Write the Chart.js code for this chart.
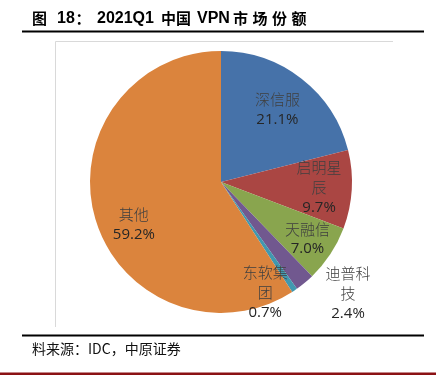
<!DOCTYPE html>
<html>
<head>
<meta charset="utf-8">
<script src="https://cdn.jsdelivr.net/npm/chart.js@4.4.1/dist/chart.umd.min.js"></script>
<style>
html,body{margin:0;padding:0;background:#fff;}
canvas{display:block;}
</style>
</head>
<body>
<canvas id="c" width="436" height="376"></canvas>
<script>
const categories = ["深信服", "启明星辰", "天融信", "迪普科技", "东软集团", "其他"];
const shares = [21.1, 9.7, 7.0, 2.4, 0.7, 59.2];
const colors = ["#4672A9", "#AA4643", "#89A54E", "#71588F", "#4198AF", "#DB843D"];
// [text, x, letterSpacing, isCJK]
const titleParts = [["图", 32, 0, true], ["18", 57, 0, false], ["：", 75.5, 0, true], ["2021Q1", 97, 0, false], ["中国", 161, 0, true], ["VPN", 197, 0, false], ["市场份额", 233, 4.5, true]];
const sourceText = "料来源：IDC，中原证券";

// label placement (style): radial factor and angular shift (degrees)
const labelPlace = [
  {f: 0.70, da: 0}, {f: 0.75, da: 0}, {f: 0.79, da: 0},
  {f: 1.29, da: -9}, {f: 0.91, da: 12.4}, {f: 0.74, da: -9.5}
];

function wrapName(s) {
  const out = [];
  for (let i = 0; i < s.length; i += 3) out.push(s.slice(i, i + 3));
  return out;
}

const decor = {
  id: 'decor',
  beforeDraw(chart) {
    const ctx = chart.ctx;
    ctx.save();
    ctx.fillStyle = '#fff';
    ctx.fillRect(0, 0, 436, 376);
    // title
    ctx.fillStyle = '#000';
    ctx.textBaseline = 'middle';
    ctx.textAlign = 'left';
    titleParts.forEach(([t, x, ls, cjk]) => {
      ctx.font = cjk ? 'bold 15px "Noto Sans CJK SC", sans-serif'
                     : 'bold 16px "Liberation Sans", sans-serif';
      ctx.letterSpacing = ls + 'px';
      ctx.fillText(t, x, 18.5);
    });
    ctx.letterSpacing = '0px';
    // top black line
    ctx.fillRect(22, 30.5, 402, 2);
    // chart frame (light gray)
    ctx.strokeStyle = '#d9d9d9';
    ctx.lineWidth = 1;
    ctx.beginPath();
    ctx.moveTo(55.5, 327);
    ctx.lineTo(55.5, 41.5);
    ctx.lineTo(393, 41.5);
    ctx.stroke();
    // bottom black line
    ctx.fillStyle = '#000';
    ctx.fillRect(22, 334.5, 402, 2);
    // source
    ctx.fillStyle = '#111';
    ctx.font = '14px "Noto Sans CJK SC", "Liberation Sans", sans-serif';
    ctx.fillText(sourceText, 32, 349);
    // red line
    ctx.fillStyle = '#8B1114';
    ctx.fillRect(0, 372.5, 436, 2.5);
    ctx.restore();
  },
  afterDatasetsDraw(chart) {
    const ctx = chart.ctx;
    const meta = chart.getDatasetMeta(0);
    ctx.save();
    ctx.textAlign = 'center';
    ctx.textBaseline = 'middle';
    meta.data.forEach((arc, i) => {
      const p = labelPlace[i];
      const mid = (arc.startAngle + arc.endAngle) / 2 + p.da * Math.PI / 180;
      const r = arc.outerRadius * p.f;
      const cx = arc.x + Math.cos(mid) * r;
      const cy = arc.y + Math.sin(mid) * r;
      const lines = wrapName(categories[i]);
      const pct = shares[i].toFixed(1) + '%';
      const all = lines.concat([pct]);
      const lh = 20;
      const y0 = cy - (all.length - 1) * lh / 2;
      all.forEach((t, k) => {
        const isPct = k === all.length - 1;
        ctx.fillStyle = isPct ? '#262626' : '#404040';
        ctx.font = isPct ? '15px "Open Sans", "Noto Sans", sans-serif'
                         : '300 15px "Noto Sans CJK SC", sans-serif';
        ctx.fillText(t, cx, y0 + k * lh);
      });
    });
    ctx.restore();
  }
};

new Chart(document.getElementById('c'), {
  type: 'pie',
  data: {
    labels: categories,
    datasets: [{
      data: shares,
      backgroundColor: colors,
      borderWidth: 0
    }]
  },
  options: {
    responsive: false,
    animation: false,
    layout: { padding: { left: 90, right: 84, top: 51, bottom: 63 } },
    plugins: {
      legend: { display: false },
      tooltip: { enabled: false },
      title: { display: false }
    }
  },
  plugins: [decor]
});
</script>
</body>
</html>
